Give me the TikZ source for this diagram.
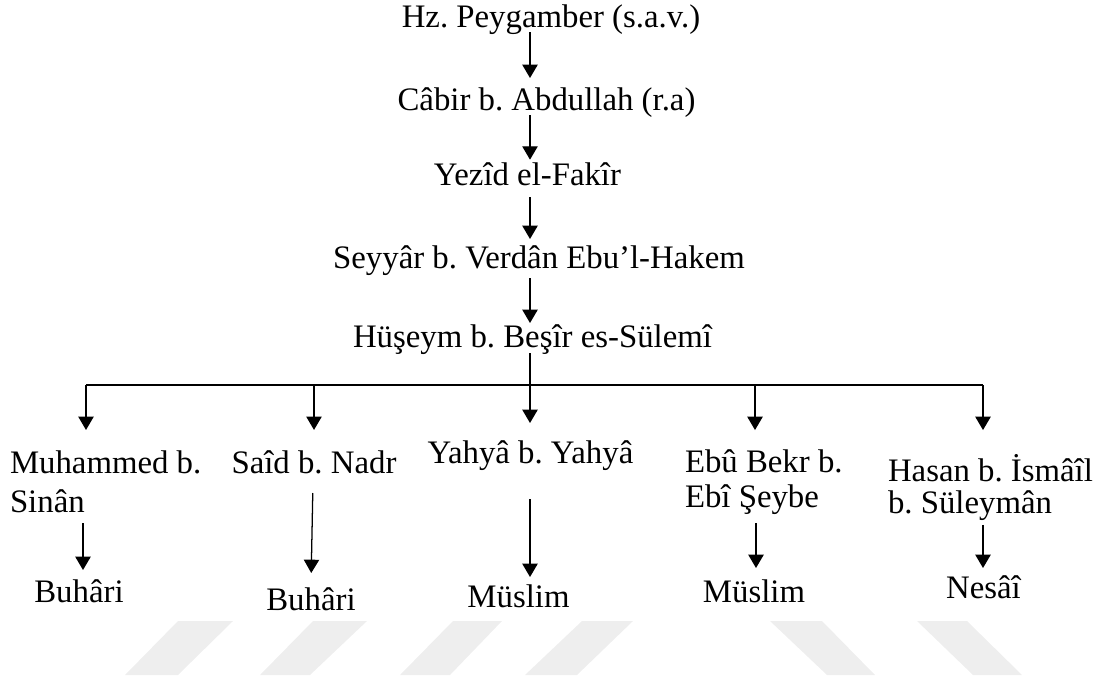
\documentclass[tikz,border=0pt]{standalone}
\usepackage{fontspec}
\setmainfont{Liberation Serif}
\usetikzlibrary{arrows.meta}
\definecolor{wmgray}{HTML}{EEEEEE}
\frenchspacing
\begin{document}
\begin{tikzpicture}[x=0.75pt,y=-0.75pt,
  lbl/.style={inner sep=0pt, outer sep=0pt, font=\fontsize{24.6pt}{29pt}\selectfont,
              text height=19pt, text depth=6pt, anchor=base},
  multi/.style={inner sep=0pt, outer sep=0pt, align=left, anchor=north west},
  arr/.style={-{Triangle[length=10pt,width=11.5pt]}, line width=0.95pt},
  ln/.style={line width=0.95pt},
  wm/.style={fill=wmgray, draw=none}]
\useasboundingbox (0,0) rectangle (1102,682);

% watermark
\fill[wm] (178,621) -- (233,621) -- (178,675) -- (125,675) -- cycle;
\fill[wm] (313,621) -- (367,621) -- (310,675) -- (260,675) -- cycle;
\fill[wm] (453,621) -- (502,621) -- (450,675) -- (400,675) -- cycle;
\fill[wm] (582,621) -- (633,621) -- (577,675) -- (525,675) -- cycle;
\fill[wm] (770,621) -- (822,621) -- (875,675) -- (827,675) -- cycle;
\fill[wm] (917,621) -- (967,621) -- (1022,675) -- (973,675) -- cycle;

% chain
\node[lbl] (p0) at (551,27) {Hz. Peygamber (s.a.v.)};
\node[lbl] (p1) at (546.5,110) {Câbir b. Abdullah (r.a)};
\node[lbl] (p2) at (527.5,185) {Yezîd el-Fakîr};
\node[lbl] (p3) at (539,268) {Seyyâr b. Verdân Ebu’l-Hakem};
\node[lbl] (p4) at (532.5,347) {Hüşeym b. Beşîr es-Sülemî};

% students
\node[multi, font=\fontsize{24.6pt}{29.25pt}\selectfont] (c1) at (10,447.7)
  {\rule{0pt}{19pt}Muhammed b.\\Sinân\rule[-6pt]{0pt}{6pt}};
\node[lbl] (c2) at (314,473) {Saîd b. Nadr};
\node[lbl] (c3) at (530.5,463) {Yahyâ b. Yahyâ};
\node[multi, font=\fontsize{24.6pt}{26.25pt}\selectfont] (c4) at (685,446.7)
  {\rule{0pt}{19pt}Ebû Bekr b.\\Ebî Şeybe\rule[-6pt]{0pt}{6pt}};
\node[multi, font=\fontsize{24.6pt}{24pt}\selectfont] (c5) at (888,454.7)
  {\rule{0pt}{19pt}Hasan b. İsmâîl\\b. Süleymân\rule[-6pt]{0pt}{6pt}};

% collections
\node[lbl] (d1) at (79,602) {Buhâri};
\node[lbl] (d2) at (311,610) {Buhâri};
\node[lbl] (d3) at (518.5,607) {Müslim};
\node[lbl] (d4) at (754,602) {Müslim};
\node[lbl] (d5) at (983.5,598) {Nesâî};

% helper coordinates
\coordinate (sx) at (530,0);
\coordinate (b1) at (86,385);
\coordinate (b2) at (314,385);
\coordinate (b3) at (530,385);
\coordinate (b4) at (755,385);
\coordinate (b5) at (983,385);
\coordinate (k1) at (83,0);
\coordinate (k2a) at (313,0);
\coordinate (k2b) at (311,0);
\coordinate (k3) at (530,0);
\coordinate (k4) at (756,0);
\coordinate (k5) at (983,0);

% chain arrows
\draw[arr, shorten <=-2.25pt, shorten >=5pt] (p0.south -| sx) -- (p1.north -| sx);
\draw[arr, shorten <=-2.25pt] (p1.south -| sx) -- (p2.north -| sx);
\draw[arr, shorten <=3pt, shorten >=2.75pt] (p2.south -| sx) -- (p3.north -| sx);
\draw[arr, shorten <=1.5pt, shorten >=-1pt] (p3.south -| sx) -- (p4.north -| sx);
\draw[ln, shorten <=-1.5pt] (p4.south -| b3) -- (b3);
\draw[ln] (b1) -- (b5);

% branch arrows
\draw[arr, shorten >=13.3pt] (b1) -- (b1 |- c1.north);
\draw[arr, shorten >=13.3pt] (b2) -- (b2 |- c2.north);
\draw[arr, shorten >=11pt] (b3) -- (b3 |- c3.north);
\draw[arr, shorten >=12.5pt] (b4) -- (b4 |- c4.north);
\draw[arr, shorten >=18.5pt] (b5) -- (b5 |- c5.north);

% second level arrows
\draw[arr, shorten <=2.25pt, shorten >=5pt] (k1 |- c1.south) -- (k1 |- d1.north);
\draw[arr, shorten <=9pt, shorten >=8.75pt] (k2a |- c2.south) -- (k2b |- d2.north);
\draw[arr, shorten <=21pt, shorten >=3.5pt] (k3 |- c3.south) -- (k3 |- d3.north);
\draw[arr, shorten <=6pt, shorten >=6.5pt] (k4 |- c4.south) -- (k4 |- d4.north);
\draw[arr, shorten <=2.25pt, shorten >=3.5pt] (k5 |- c5.south) -- (k5 |- d5.north);
\end{tikzpicture}
\end{document}
